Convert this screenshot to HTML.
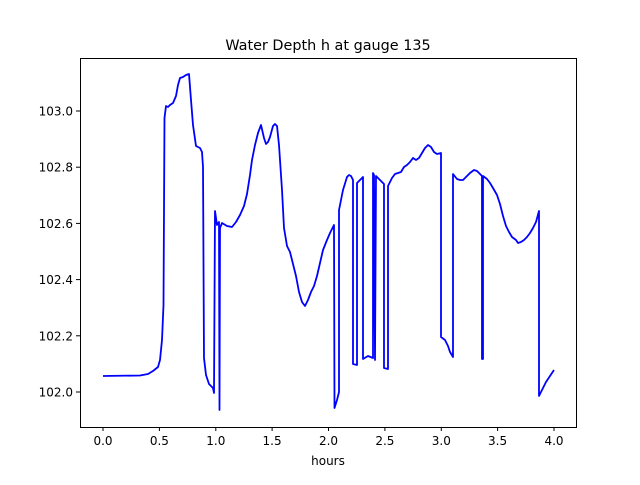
<!DOCTYPE html>
<html><head><meta charset="utf-8"><style>
html,body{margin:0;padding:0;background:#fff;}
svg text{font-family:"DejaVu Sans","Liberation Sans",sans-serif;font-size:12px;fill:#000;}
</style></head><body>
<svg width="640" height="480" viewBox="0 0 640 480" xmlns="http://www.w3.org/2000/svg">
<rect width="640" height="480" fill="#fff"/>
<text x="328" y="50" text-anchor="middle" style="font-size:14.4px">Water Depth h at gauge 135</text>
<polyline fill="none" stroke="#0000ff" stroke-width="1.8" stroke-linejoin="round" points="
103,376 140,375.5 148,374 153,371 158,367 160,360 162,340 163.5,305 164.5,118 166,106 168,107 170,105 173,103 176,96 178,85 180,78 183,77 186,75 189,74 191,100 193,125 196,146 200,148 202,152 203,167 204,358 206,375 209,384 213,388 214,393 215,211 217,225 219,222 219.5,410 220,228 222,223 227,226 232,227 236,222 240,215 244,206 247,194 250,175 252,160 255,145 258,133 261,125 264,138 266,144 268,142 270,137 273,126 275,124 277,126 279,145 282,190 284,228 287,246 290,252 293,264 296,276 299,292 302,302 305,306 308,300 311,292 314,286 317,276 320,263 323,250 327,240 330,233 334,225 334.5,408 337,400 339,392 339,210 343,190 347,177 349,175 351,176 353,180 353,364 357,365 357,183 360,180 363,177 363,359 368,356 373,358 373,173 374,175 375,360 376,176 384,184 384,368 388,369 388,186 392,178 395,174 398,173 401,172 404,167 407,165 410,162 413,158 416,160 419,158 422,153 425,148 428,145 431,147 434,152 437,154 441,153 441,337 445,340 448,346 450,352 453,357 453,174 457,179 460,180 463,180 467,176 470,173 474,170 477,171 480,174 482,176 482,359 483,359 483,176 487,179 490,183 493,188 497,195 500,204 503,216 506,226 509,232 512,237 516,240 518,243 521,242 524,240 527,237 530,233 533,228 536,222 539,211 539,396 543,388 546,382 550,376 554,370"/>
<rect x="80.5" y="58.5" width="496" height="369" fill="none" stroke="#000" stroke-width="1"/>
<g stroke="#000" stroke-width="1">
<line x1="103" y1="427" x2="103" y2="431"/><line x1="159.4" y1="427" x2="159.4" y2="431"/><line x1="215.8" y1="427" x2="215.8" y2="431"/><line x1="272.1" y1="427" x2="272.1" y2="431"/><line x1="328.5" y1="427" x2="328.5" y2="431"/><line x1="384.9" y1="427" x2="384.9" y2="431"/><line x1="441.3" y1="427" x2="441.3" y2="431"/><line x1="497.6" y1="427" x2="497.6" y2="431"/><line x1="554" y1="427" x2="554" y2="431"/>
<line x1="76" y1="392" x2="80" y2="392"/><line x1="76" y1="335.8" x2="80" y2="335.8"/><line x1="76" y1="279.6" x2="80" y2="279.6"/><line x1="76" y1="223.4" x2="80" y2="223.4"/><line x1="76" y1="167.2" x2="80" y2="167.2"/><line x1="76" y1="111" x2="80" y2="111"/>
</g>
<g text-anchor="middle">
<text x="103" y="445">0.0</text><text x="159.4" y="445">0.5</text><text x="215.8" y="445">1.0</text><text x="272.1" y="445">1.5</text><text x="328.5" y="445">2.0</text><text x="384.9" y="445">2.5</text><text x="441.3" y="445">3.0</text><text x="497.6" y="445">3.5</text><text x="554" y="445">4.0</text>
<text x="328" y="465">hours</text>
</g>
<g text-anchor="end">
<text x="73" y="396.5">102.0</text><text x="73" y="340.3">102.2</text><text x="73" y="284.1">102.4</text><text x="73" y="227.9">102.6</text><text x="73" y="171.7">102.8</text><text x="73" y="115.5">103.0</text>
</g>
</svg>
</body></html>
